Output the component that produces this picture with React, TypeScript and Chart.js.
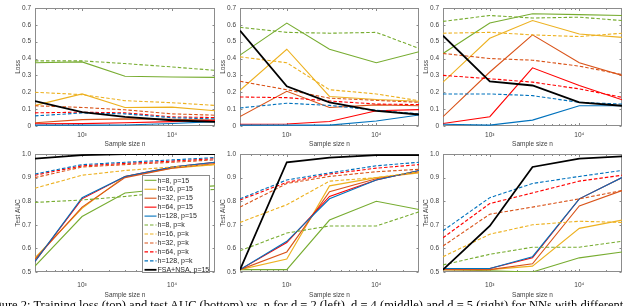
import React, { useEffect, useRef } from 'react';
import { Chart, registerables } from 'chart.js';
Chart.register(...registerables);

// ---- data ----
const sampleSizes = [300, 1000, 3000, 10000, 30000];
const xTickValues = [1000, 10000];
const xTickLabels = ['10³', '10⁴'];
const xMinorTicks = [400, 500, 600, 700, 800, 900, 2000, 3000, 4000, 5000, 6000, 7000, 8000, 9000, 20000];

const seriesLabels = [
  'h=8, p=15', 'h=16, p=15', 'h=32, p=15', 'h=64, p=15', 'h=128, p=15',
  'h=8, p=k', 'h=16, p=k', 'h=32, p=k', 'h=64, p=k', 'h=128, p=k',
  'FSA+NSA, p=15',
];
const seriesColors = [
  '#77AC30', '#EDB120', '#D95319', '#FF0000', '#0072BD',
  '#77AC30', '#EDB120', '#D95319', '#FF0000', '#0072BD',
  '#000000',
];
const seriesDashed = [false, false, false, false, false, true, true, true, true, true, false];

// rows follow seriesLabels order
const lossLeft = [
  [0.375, 0.38, 0.295, 0.29, 0.288],
  [0.122, 0.19, 0.11, 0.112, 0.09],
  [0.019, 0.038, 0.042, 0.04, 0.036],
  [0.013, 0.014, 0.019, 0.026, 0.034],
  [0.005, 0.005, 0.006, 0.015, 0.026],
  [0.386, 0.386, 0.37, 0.35, 0.33],
  [0.2, 0.186, 0.15, 0.138, 0.122],
  [0.12, 0.11, 0.096, 0.072, 0.064],
  [0.078, 0.082, 0.078, 0.054, 0.05],
  [0.06, 0.077, 0.072, 0.049, 0.042],
  [0.148, 0.082, 0.054, 0.034, 0.025],
];
const lossMiddle = [
  [0.42, 0.61, 0.455, 0.375, 0.44],
  [0.212, 0.455, 0.175, 0.157, 0.147],
  [0.056, 0.206, 0.11, 0.125, 0.12],
  [0.01, 0.012, 0.027, 0.09, 0.097],
  [0.005, 0.005, 0.005, 0.03, 0.065],
  [0.585, 0.555, 0.55, 0.555, 0.46],
  [0.41, 0.375, 0.215, 0.19, 0.15],
  [0.265, 0.215, 0.165, 0.152, 0.14],
  [0.172, 0.168, 0.148, 0.13, 0.127],
  [0.107, 0.135, 0.122, 0.093, 0.072],
  [0.565, 0.235, 0.14, 0.09, 0.068],
];
const lossRight = [
  [0.43, 0.61, 0.665, 0.66, 0.655],
  [0.26, 0.52, 0.625, 0.545, 0.525],
  [0.055, 0.32, 0.54, 0.375, 0.3],
  [0.015, 0.055, 0.345, 0.24, 0.155],
  [0.01, 0.005, 0.035, 0.12, 0.12],
  [0.62, 0.655, 0.64, 0.645, 0.625],
  [0.55, 0.555, 0.54, 0.53, 0.55],
  [0.43, 0.4, 0.39, 0.355, 0.305],
  [0.3, 0.28, 0.26, 0.22, 0.17],
  [0.19, 0.19, 0.18, 0.14, 0.13],
  [0.535, 0.265, 0.24, 0.14, 0.12],
];
const aucLeft = [
  [0.525, 0.735, 0.835, 0.855, 0.865],
  [0.56, 0.77, 0.905, 0.94, 0.955],
  [0.555, 0.775, 0.9, 0.94, 0.96],
  [0.545, 0.81, 0.905, 0.945, 0.965],
  [0.545, 0.815, 0.905, 0.945, 0.965],
  [0.795, 0.805, 0.82, 0.84, 0.85],
  [0.855, 0.91, 0.93, 0.945, 0.955],
  [0.9, 0.945, 0.955, 0.965, 0.975],
  [0.91, 0.95, 0.96, 0.97, 0.98],
  [0.915, 0.955, 0.965, 0.975, 0.985],
  [0.98, 0.995, 1.0, 1.0, 1.0],
];
const aucMiddle = [
  [0.51, 0.51, 0.72, 0.8, 0.765],
  [0.51, 0.555, 0.865, 0.9, 0.92],
  [0.51, 0.585, 0.84, 0.895, 0.925],
  [0.51, 0.625, 0.82, 0.89, 0.93],
  [0.51, 0.63, 0.81, 0.89, 0.93],
  [0.59, 0.665, 0.695, 0.695, 0.755],
  [0.71, 0.785, 0.885, 0.9, 0.925],
  [0.775, 0.875, 0.905, 0.925, 0.935],
  [0.805, 0.88, 0.915, 0.94, 0.955],
  [0.81, 0.89, 0.92, 0.95, 0.965],
  [0.51, 0.965, 0.985, 0.995, 0.995],
];
const aucRight = [
  [0.51, 0.505, 0.5, 0.56, 0.585],
  [0.51, 0.51, 0.525, 0.685, 0.72],
  [0.51, 0.51, 0.535, 0.78, 0.845],
  [0.515, 0.515, 0.56, 0.81, 0.9],
  [0.515, 0.515, 0.565, 0.81, 0.9],
  [0.53, 0.575, 0.605, 0.605, 0.63],
  [0.565, 0.66, 0.7, 0.715, 0.71],
  [0.61, 0.745, 0.775, 0.81, 0.845],
  [0.645, 0.79, 0.835, 0.885, 0.91],
  [0.675, 0.815, 0.875, 0.905, 0.93],
  [0.51, 0.695, 0.945, 0.98, 0.99],
];

const captionText =
  'Figure 2: Training loss (top) and test AUC (bottom) vs. n for d = 2 (left), d = 4 (middle) and d = 5 (right) for NNs with different';

// ---- layout ----
const W = 640;
const H = 306;
const FONT = '"Liberation Sans", Arial, Helvetica, sans-serif';
const TXT = '#404040';

type Panel = {
  rows: number[][];
  left: number; right: number; top: number; bottom: number;
  yMin: number; yMax: number; yTitle: string; legend: boolean;
  xAxisH: number; xTickPad: number;
};

const colsX = [[35, 215], [240, 419], [443, 622]];
const rowsY = [[2, 126], [154, 272]];

const mk = (rows: number[][], c: number, r: number, legend: boolean): Panel => ({
  rows,
  left: colsX[c][0], right: colsX[c][1], top: rowsY[r][0], bottom: rowsY[r][1],
  yMin: r === 0 ? 0 : 0.5, yMax: r === 0 ? 0.7 : 1,
  yTitle: r === 0 ? 'Loss' : 'Test AUC',
  legend,
  xAxisH: r === 0 ? 22 : 27,
  xTickPad: r === 0 ? 5 : 9,
});

const panels: Panel[] = [
  mk(lossLeft, 0, 0, false),
  mk(lossMiddle, 1, 0, false),
  mk(lossRight, 2, 0, false),
  mk(aucLeft, 0, 1, true),
  mk(aucMiddle, 1, 1, false),
  mk(aucRight, 2, 1, false),
];

const Y_AXIS_W = 21;

const framePlugin = {
  id: 'frame',
  beforeDatasetsDraw(chart: any) {
    const { ctx, chartArea: a, scales } = chart;
    ctx.save();
    ctx.strokeStyle = '#8c8c8c';
    ctx.lineWidth = 1;
    const L = Math.round(a.left) + 0.5;
    const R = Math.round(a.right) - 0.5;
    const T = Math.round(a.top) + 0.5;
    const B = Math.round(a.bottom) - 0.5;
    ctx.strokeRect(L, T, R - L, B - T);
    ctx.beginPath();
    const ys = scales.y;
    ys.ticks.forEach((t: any) => {
      const py = Math.round(ys.getPixelForValue(t.value)) + 0.5;
      ctx.moveTo(L, py); ctx.lineTo(L + 2, py);
      ctx.moveTo(R, py); ctx.lineTo(R - 2, py);
    });
    const xs = scales.x;
    xTickValues.forEach((v) => {
      const px = Math.round(xs.getPixelForValue(v)) + 0.5;
      ctx.moveTo(px, B); ctx.lineTo(px, B - 2.5);
      ctx.moveTo(px, T); ctx.lineTo(px, T + 2.5);
    });
    xMinorTicks.forEach((v) => {
      const px = Math.round(xs.getPixelForValue(v)) + 0.5;
      ctx.moveTo(px, B); ctx.lineTo(px, B - 1.5);
      ctx.moveTo(px, T); ctx.lineTo(px, T + 1.5);
    });
    ctx.stroke();
    ctx.restore();
  },
};

const legendPlugin = {
  id: 'insideLegend',
  afterDatasetsDraw(chart: any) {
    const { ctx, chartArea: a } = chart;
    const bw = 67;
    const bh = 97;
    const bx = Math.round(a.right) - 6 - bw + 0.5;
    const by = Math.round(a.bottom) - bh + 0.5;
    ctx.save();
    ctx.fillStyle = '#ffffff';
    ctx.fillRect(bx, by, bw, bh);
    ctx.strokeStyle = '#8c8c8c';
    ctx.lineWidth = 1;
    ctx.strokeRect(bx, by, bw, bh);
    ctx.font = `7px ${FONT}`;
    ctx.textBaseline = 'middle';
    ctx.textAlign = 'left';
    seriesLabels.forEach((label, i) => {
      const yy = by + 4.8 + i * 8.95;
      ctx.beginPath();
      ctx.strokeStyle = seriesColors[i];
      ctx.lineWidth = i === 10 ? 1.8 : 1.1;
      ctx.setLineDash(seriesDashed[i] ? [3.5, 2] : []);
      ctx.moveTo(bx + 2, yy);
      ctx.lineTo(bx + 14, yy);
      ctx.stroke();
      ctx.setLineDash([]);
      ctx.fillStyle = '#262626';
      ctx.fillText(label, bx + 15, yy + 0.3);
    });
    ctx.restore();
  },
};

function buildConfig(p: Panel): any {
  const datasets = p.rows.map((vals, i) => ({
    label: seriesLabels[i],
    data: sampleSizes.map((x, j) => ({ x, y: vals[j] })),
    borderColor: seriesColors[i],
    backgroundColor: seriesColors[i],
    borderWidth: i === 10 ? 1.8 : 1.1,
    borderDash: seriesDashed[i] ? [3.5, 2] : [],
    pointRadius: 0,
    tension: 0,
    fill: false,
    order: 100 - i,
  }));
  return {
    type: 'line',
    data: { datasets },
    plugins: p.legend ? [framePlugin, legendPlugin] : [framePlugin],
    options: {
      animation: false,
      responsive: false,
      devicePixelRatio: 1,
      events: [],
      layout: {
        padding: {
          left: p.left - Y_AXIS_W,
          right: W - p.right,
          top: p.top,
          bottom: H - p.bottom - p.xAxisH,
        },
      },
      plugins: { legend: { display: false }, tooltip: { enabled: false }, title: { display: false } },
      scales: {
        x: {
          type: 'logarithmic',
          min: sampleSizes[0],
          max: sampleSizes[sampleSizes.length - 1],
          grid: { display: false, drawTicks: false },
          border: { display: false },
          afterBuildTicks: (s: any) => { s.ticks = xTickValues.map((v) => ({ value: v })); },
          afterFit: (s: any) => { s.height = p.xAxisH; },
          ticks: {
            autoSkip: false,
            maxRotation: 0,
            padding: p.xTickPad,
            color: TXT,
            font: { family: FONT, size: 6.5 },
            callback: (v: any) => xTickLabels[xTickValues.indexOf(Number(v))] ?? '',
          },
          title: {
            display: true,
            text: 'Sample size n',
            color: TXT,
            font: { family: FONT, size: 6.5 },
            padding: { top: 0, bottom: 0 },
          },
        },
        y: {
          type: 'linear',
          min: p.yMin,
          max: p.yMax,
          grid: { display: false, drawTicks: false },
          border: { display: false },
          afterFit: (s: any) => { s.width = Y_AXIS_W; },
          ticks: {
            stepSize: 0.1,
            padding: 4,
            color: TXT,
            font: { family: FONT, size: 6.5 },
          },
          title: {
            display: true,
            text: p.yTitle,
            color: TXT,
            font: { family: FONT, size: 6.5 },
            padding: { top: 0, bottom: 0 },
          },
        },
      },
    },
  };
}

export default function App() {
  const refs = useRef<(HTMLCanvasElement | null)[]>([]);
  useEffect(() => {
    const charts = panels.map((p, i) => new Chart(refs.current[i] as HTMLCanvasElement, buildConfig(p)));
    return () => charts.forEach((c) => c.destroy());
  }, []);
  return (
    <div style={{ position: 'absolute', left: 0, top: 0, width: W, height: H, overflow: 'hidden', background: '#fff' }}>
      {panels.map((_, i) => (
        <canvas
          key={i}
          ref={(el) => { refs.current[i] = el; }}
          width={W}
          height={H}
          style={{ position: 'absolute', left: 0, top: 0, width: W, height: H }}
        />
      ))}
      <div
        style={{
          position: 'absolute',
          left: -15,
          top: 298,
          whiteSpace: 'nowrap',
          fontFamily: '"Liberation Serif", "Times New Roman", serif',
          fontSize: 12.5,
          lineHeight: '14px',
          color: '#000',
        }}
      >
        {captionText}
      </div>
    </div>
  );
}
